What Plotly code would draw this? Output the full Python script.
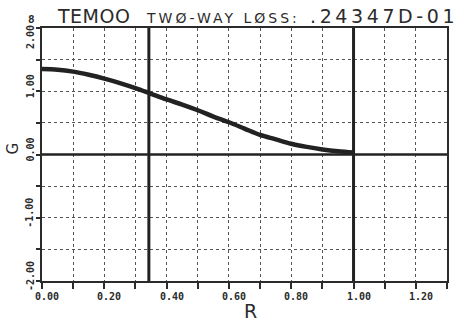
import plotly.graph_objects as go

# Beam profile G(R) for the TEM00 mode
radius = [0.00, 0.05, 0.10, 0.15, 0.20, 0.25, 0.30, 0.35, 0.40, 0.45, 0.50,
          0.55, 0.60, 0.65, 0.70, 0.75, 0.80, 0.85, 0.90, 0.95, 1.00]
gain = [1.35, 1.34, 1.31, 1.26, 1.20, 1.13, 1.05, 0.96, 0.87, 0.79, 0.70,
        0.60, 0.51, 0.41, 0.31, 0.24, 0.17, 0.12, 0.08, 0.05, 0.03]

# Aperture markers (vertical heavy lines) and the zero baseline
aperture_r = [0.343, 1.00]
baseline_g = [0.0]

x_ticks = [0.0, 0.2, 0.4, 0.6, 0.8, 1.0, 1.2]
x_tick_text = ["0.00", "0.20", "0.40", "0.60", "0.80", "1.00", "1.20"]
y_ticks = [-2.0, -1.0, 0.0, 1.0, 2.0]
y_tick_text = ["-2.00", "-1.00", "0.00", "1.00", "2.00"]

INK = "#2b2b2b"
GRID = "#555555"
TICKFONT = dict(family="DejaVu Sans Mono", size=10, color=INK, weight="bold")

W, H = 461, 323
L, R_, T, B = 42, 12, 28, 42
PW, PH = W - L - R_, H - T - B


def px_to_paper(px, py):
    """Convert figure pixel coordinates (origin top-left) to paper coordinates."""
    return (px - L) / PW, (H - py - B) / PH


fig = go.Figure()

fig.add_trace(go.Scatter(
    x=radius, y=gain, mode="lines",
    line=dict(color="#222222", width=4.5, shape="spline"),
    showlegend=False, hoverinfo="skip"))

shapes = []
for r in aperture_r:
    shapes.append(dict(type="line", xref="x", yref="paper", x0=r, x1=r, y0=0, y1=1,
                       line=dict(color="#222222", width=3)))
for g in baseline_g:
    shapes.append(dict(type="line", xref="paper", yref="y", x0=0, x1=1, y0=g, y1=g,
                       line=dict(color="#222222", width=2.5)))

fig.update_layout(
    width=W, height=H,
    margin=dict(l=L, r=R_, t=T, b=B),
    paper_bgcolor="white", plot_bgcolor="white",
    shapes=shapes,
    xaxis=dict(
        range=[0, 1.3], showgrid=True, gridcolor=GRID, griddash="dot", gridwidth=1,
        tickmode="linear", tick0=0, dtick=0.1,
        ticks="outside", ticklen=6, tickwidth=1.5, tickcolor=INK,
        showticklabels=False, zeroline=False,
        showline=True, linecolor=INK, linewidth=1.6, mirror=True),
    yaxis=dict(
        range=[-2, 2], showgrid=True, gridcolor=GRID, griddash="dot", gridwidth=1,
        tickmode="linear", tick0=0, dtick=0.5,
        ticks="outside", ticklen=4, tickwidth=1.5, tickcolor=INK,
        showticklabels=False, zeroline=False,
        showline=True, linecolor=INK, linewidth=1.6, mirror=True),
)

annotations = []
# x tick labels
for v, s in zip(x_ticks, x_tick_text):
    annotations.append(dict(x=v, y=-2, xref="x", yref="y", text=s, showarrow=False,
                            yshift=-15, xshift=5, font=TICKFONT))
# y tick labels, rotated to read upward; the topmost one is kept inside the frame
y_top = max(y_ticks)
for v, s in zip(y_ticks, y_tick_text):
    annotations.append(dict(x=0, y=v, xref="x", yref="y", text=s, showarrow=False,
                            xshift=-12, yshift=(-9 if v == y_top else 5),
                            textangle=-90, font=TICKFONT))

# axis titles
annotations.append(dict(x=0.5, y=-2, xref="x", yref="y", text="R", showarrow=False,
                        xshift=53, yshift=-30,
                        font=dict(family="DejaVu Sans", size=19, color=INK)))
annotations.append(dict(x=0, y=0, xref="x", yref="y", text="G", showarrow=False,
                        xshift=-30, yshift=6, textangle=-90,
                        font=dict(family="DejaVu Sans", size=15, color=INK)))

# title line: frame number, mode name, loss value
title_items = [
    ("8", 26, 20, dict(family="DejaVu Sans Mono", size=11, color=INK, weight="bold"), 0),
    ("TEMOO", 55, 16, dict(family="DejaVu Sans", size=19, color=INK), 0.5),
    ("TWØ-WAY LØSS:", 145, 18, dict(family="DejaVu Sans", size=14, color=INK), 3),
    (".24347D-01", 309, 16, dict(family="DejaVu Sans", size=19, color=INK), 3.6),
]
for txt, px, py, fnt, spacing in title_items:
    x, y = px_to_paper(px, py)
    annotations.append(dict(
        x=x, y=y, xref="paper", yref="paper",
        text=f'<span style="letter-spacing:{spacing}px">{txt}</span>',
        showarrow=False, font=fnt, xanchor="left", yanchor="middle"))

fig.update_layout(annotations=annotations)

fig.write_html("out.html")
